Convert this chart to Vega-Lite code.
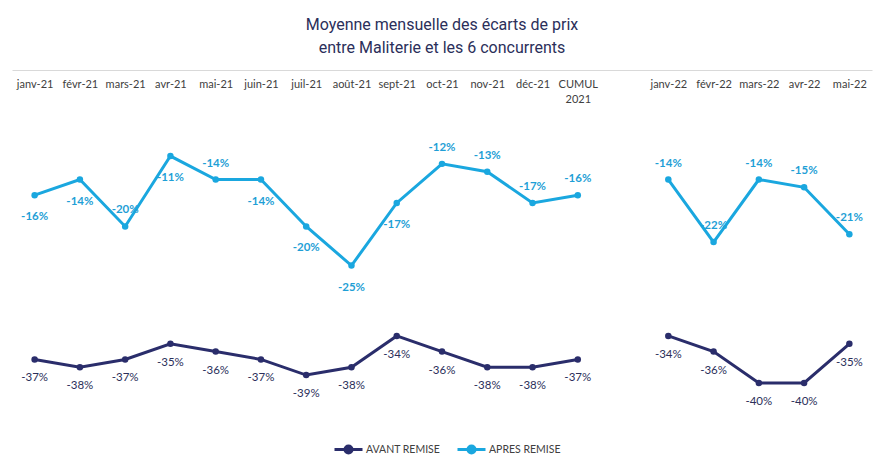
{
  "$schema": "https://vega.github.io/schema/vega-lite/v6.json",
  "width": 860,
  "height": 352,
  "autosize": {"type": "none"},
  "padding": {"left": 12, "top": 70, "right": 16, "bottom": 46},
  "background": "white",
  "title": {
    "text": ["Moyenne mensuelle des écarts de prix", "entre Maliterie et les 6 concurrents"],
    "font": "Roboto",
    "fontSize": 16,
    "fontWeight": "normal",
    "color": "#2b2f5a",
    "lineHeight": 23,
    "anchor": "middle",
    "offset": 14
  },
  "data": {
    "values": [
      {"mois": "janv-21", "annee": "2021", "serie": "AVANT REMISE", "valeur": -37},
      {"mois": "févr-21", "annee": "2021", "serie": "AVANT REMISE", "valeur": -38},
      {"mois": "mars-21", "annee": "2021", "serie": "AVANT REMISE", "valeur": -37},
      {"mois": "avr-21", "annee": "2021", "serie": "AVANT REMISE", "valeur": -35},
      {"mois": "mai-21", "annee": "2021", "serie": "AVANT REMISE", "valeur": -36},
      {"mois": "juin-21", "annee": "2021", "serie": "AVANT REMISE", "valeur": -37},
      {"mois": "juil-21", "annee": "2021", "serie": "AVANT REMISE", "valeur": -39},
      {"mois": "août-21", "annee": "2021", "serie": "AVANT REMISE", "valeur": -38},
      {"mois": "sept-21", "annee": "2021", "serie": "AVANT REMISE", "valeur": -34},
      {"mois": "oct-21", "annee": "2021", "serie": "AVANT REMISE", "valeur": -36},
      {"mois": "nov-21", "annee": "2021", "serie": "AVANT REMISE", "valeur": -38},
      {"mois": "déc-21", "annee": "2021", "serie": "AVANT REMISE", "valeur": -38},
      {"mois": "CUMUL 2021", "annee": "2021", "serie": "AVANT REMISE", "valeur": -37},
      {"mois": "janv-22", "annee": "2022", "serie": "AVANT REMISE", "valeur": -34},
      {"mois": "févr-22", "annee": "2022", "serie": "AVANT REMISE", "valeur": -36},
      {"mois": "mars-22", "annee": "2022", "serie": "AVANT REMISE", "valeur": -40},
      {"mois": "avr-22", "annee": "2022", "serie": "AVANT REMISE", "valeur": -40},
      {"mois": "mai-22", "annee": "2022", "serie": "AVANT REMISE", "valeur": -35},
      {"mois": "janv-21", "annee": "2021", "serie": "APRES REMISE", "valeur": -16},
      {"mois": "févr-21", "annee": "2021", "serie": "APRES REMISE", "valeur": -14},
      {"mois": "mars-21", "annee": "2021", "serie": "APRES REMISE", "valeur": -20},
      {"mois": "avr-21", "annee": "2021", "serie": "APRES REMISE", "valeur": -11},
      {"mois": "mai-21", "annee": "2021", "serie": "APRES REMISE", "valeur": -14},
      {"mois": "juin-21", "annee": "2021", "serie": "APRES REMISE", "valeur": -14},
      {"mois": "juil-21", "annee": "2021", "serie": "APRES REMISE", "valeur": -20},
      {"mois": "août-21", "annee": "2021", "serie": "APRES REMISE", "valeur": -25},
      {"mois": "sept-21", "annee": "2021", "serie": "APRES REMISE", "valeur": -17},
      {"mois": "oct-21", "annee": "2021", "serie": "APRES REMISE", "valeur": -12},
      {"mois": "nov-21", "annee": "2021", "serie": "APRES REMISE", "valeur": -13},
      {"mois": "déc-21", "annee": "2021", "serie": "APRES REMISE", "valeur": -17},
      {"mois": "CUMUL 2021", "annee": "2021", "serie": "APRES REMISE", "valeur": -16},
      {"mois": "janv-22", "annee": "2022", "serie": "APRES REMISE", "valeur": -14},
      {"mois": "févr-22", "annee": "2022", "serie": "APRES REMISE", "valeur": -22},
      {"mois": "mars-22", "annee": "2022", "serie": "APRES REMISE", "valeur": -14},
      {"mois": "avr-22", "annee": "2022", "serie": "APRES REMISE", "valeur": -15},
      {"mois": "mai-22", "annee": "2022", "serie": "APRES REMISE", "valeur": -21}
    ]
  },
  "transform": [{"calculate": "datum.valeur + '%'", "as": "etiquette"}],
  "encoding": {
    "x": {
      "field": "mois",
      "type": "ordinal",
      "sort": null,
      "scale": {
        "type": "point",
        "padding": 0.5,
        "domain": ["janv-21", "févr-21", "mars-21", "avr-21", "mai-21", "juin-21", "juil-21", "août-21", "sept-21", "oct-21", "nov-21", "déc-21", "CUMUL 2021", " ", "janv-22", "févr-22", "mars-22", "avr-22", "mai-22"]
      },
      "axis": {
        "orient": "top",
        "title": null,
        "ticks": false,
        "domain": true,
        "domainColor": "#d9d9d9",
        "domainWidth": 1,
        "grid": false,
        "labelAngle": 0,
        "labelBaseline": "top",
        "labelPadding": -8,
        "labelFont": "Lato",
        "labelFontSize": 11,
        "labelColor": "#404040",
        "labelLineHeight": 15,
        "labelOverlap": false,
        "labelLimit": 0,
        "labelExpr": "datum.value == 'CUMUL 2021' ? ['CUMUL', '2021'] : datum.value"
      }
    },
    "y": {
      "field": "valeur",
      "type": "quantitative",
      "scale": {"domain": [-45, 0], "nice": false, "zero": false},
      "axis": null
    }
  },
  "layer": [
    {
      "mark": {"type": "line", "strokeWidth": 3, "point": {"filled": true, "size": 42}},
      "encoding": {
        "color": {
          "field": "serie",
          "type": "nominal",
          "sort": ["AVANT REMISE", "APRES REMISE"],
          "scale": {"domain": ["AVANT REMISE", "APRES REMISE"], "range": ["#2a2d6b", "#1aa7df"]},
          "legend": {
            "title": null,
            "orient": "none",
            "legendX": 321,
            "legendY": 364,
            "direction": "horizontal",
            "labelFont": "Lato",
            "labelFontSize": 10.5,
            "labelColor": "#404040",
            "symbolType": "M-1,0H1M-0.25,0A0.25,0.25 0 1,1 0.25,0A0.25,0.25 0 1,1 -0.25,0",
            "symbolSize": 784,
            "symbolStrokeWidth": 3,
            "columnPadding": 10,
            "labelOffset": 2,
            "encode": {"symbols": {"update": {"fill": {"scale": "color", "field": "value"}}}}
          }
        },
        "detail": {"field": "annee"}
      }
    },
    {
      "transform": [{"filter": "datum.serie == 'AVANT REMISE'"}],
      "mark": {"type": "text", "dy": 19, "font": "Lato", "fontSize": 11.5, "color": "#2b2f5a"},
      "encoding": {"text": {"field": "etiquette"}}
    },
    {
      "transform": [{"filter": "datum.serie == 'APRES REMISE' && indexof(['janv-21','févr-21','avr-21','juin-21','juil-21','août-21','sept-21'], datum.mois) >= 0"}],
      "mark": {"type": "text", "dy": 22, "font": "Lato", "fontSize": 11.5, "fontWeight": "bold", "color": "#1f9fd6"},
      "encoding": {"text": {"field": "etiquette"}}
    },
    {
      "transform": [{"filter": "datum.serie == 'APRES REMISE' && indexof(['janv-21','févr-21','avr-21','juin-21','juil-21','août-21','sept-21'], datum.mois) < 0"}],
      "mark": {"type": "text", "dy": -16, "font": "Lato", "fontSize": 11.5, "fontWeight": "bold", "color": "#1f9fd6"},
      "encoding": {"text": {"field": "etiquette"}}
    }
  ],
  "config": {"view": {"stroke": null}}
}
